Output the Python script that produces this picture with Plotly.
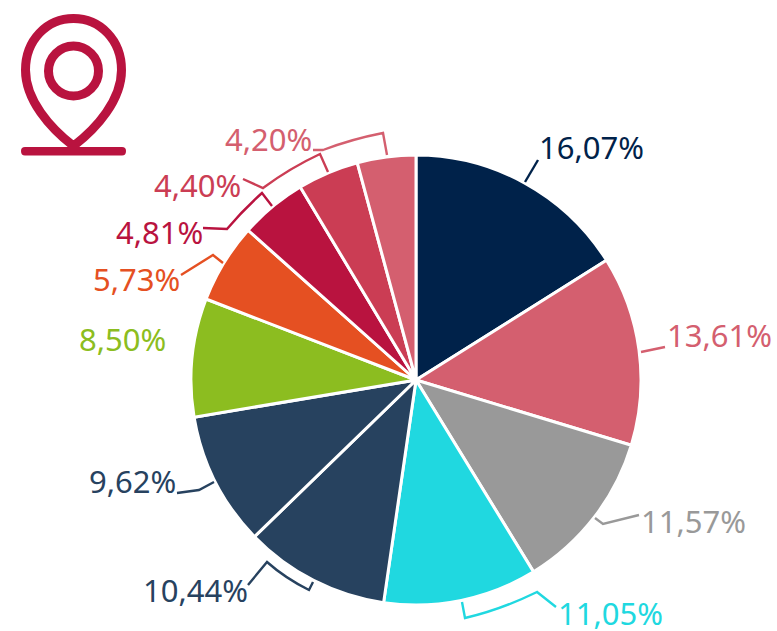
import plotly.graph_objects as go

W, H = 777, 631
FONT = "Noto Sans"
SIZE = 31

# data
categories = ["A", "B", "C", "D", "E", "F", "G", "H", "I", "J", "K"]
values = [16.07, 13.61, 11.57, 11.05, 10.44, 9.62, 8.50, 5.73, 4.81, 4.40, 4.20]
colors = ["#00224A", "#D45F6F", "#999999", "#20D8E0", "#27425F", "#27425F",
          "#8CBD20", "#E55022", "#B9133F", "#CB3D54", "#D45F6F"]
label_centers = [(591, 147), (719, 335), (693, 521), (610, 613), (195, 590),
                 (132, 481), (122, 339), (136, 279), (159, 232), (197, 185), (268, 139)]
leaders = [
    "M 525 182 L 538 160",
    "M 641 352 L 665 347",
    "M 639 515 L 603 524 L 595 518",
    "M 556 607 L 537 592 Q 500 610 465 618 L 462 602",
    "M 248 585 L 267 562 Q 285 578 309 590 L 313 582",
    "M 177 493 L 199 490 L 214 482",
    None,
    "M 181 275 L 213 255 L 223 263",
    "M 203 228 L 227 229 Q 243 210 262 193 L 272 206",
    "M 243 179 L 263 188 Q 290 168 320 154 L 328 172",
    "M 313 150 L 323 150 Q 352 139 383 133 L 387 155",
]
ICON = "#B9133F"


def px(x):
    return x / W


def py(y):
    return 1 - y / H


def to_paper(path):
    out, is_x = [], True
    for tok in path.split():
        if tok.isalpha():
            out.append(tok)
            is_x = True
        else:
            out.append(f"{px(float(tok)) if is_x else py(float(tok)):.5f}")
            is_x = not is_x
    return " ".join(out)


fig = go.Figure(go.Pie(
    labels=categories, values=values, sort=False, direction="clockwise", rotation=0,
    textinfo="none", hoverinfo="none", showlegend=False,
    marker=dict(colors=colors, line=dict(color="#FFFFFF", width=3)),
    domain=dict(x=[px(191), px(641)], y=[py(605), py(155)]),
))

for v, c, (x, y) in zip(values, colors, label_centers):
    fig.add_annotation(xref="paper", yref="paper", x=px(x), y=py(y), showarrow=False,
                       text=f"{v:.2f}".replace(".", ",") + "%",
                       font=dict(family=FONT, size=SIZE, color=c),
                       xanchor="center", yanchor="middle")

shapes = []
for path, c in zip(leaders, colors):
    if path:
        shapes.append(dict(type="path", xref="paper", yref="paper", path=to_paper(path),
                           line=dict(color=c, width=2.4)))

shapes.append(dict(type="path", xref="paper", yref="paper", line=dict(color=ICON, width=9),
                   path=to_paper("M 73.5 146 C 50 128 25.5 100 25.5 70 C 25.5 40 47 18.5 73.5 18.5 "
                                 "C 100 18.5 121.5 40 121.5 70 C 121.5 100 97 128 73.5 146 Z")))
shapes.append(dict(type="circle", xref="paper", yref="paper", line=dict(color=ICON, width=9),
                   x0=px(48.5), x1=px(98.5), y0=py(96), y1=py(46)))
shapes.append(dict(type="path", xref="paper", yref="paper", line=dict(width=0), fillcolor=ICON,
                   path=to_paper("M 25 147 L 122 147 Q 126 147 126 151 Q 126 155.5 122 155.5 "
                                 "L 25 155.5 Q 21 155.5 21 151 Q 21 147 25 147 Z")))

fig.update_layout(width=W, height=H, margin=dict(l=0, r=0, t=0, b=0),
                  paper_bgcolor="#FFFFFF", shapes=shapes)
fig.write_html("out.html", config=dict(displayModeBar=False),
               post_script="document.body.style.margin='0';")
